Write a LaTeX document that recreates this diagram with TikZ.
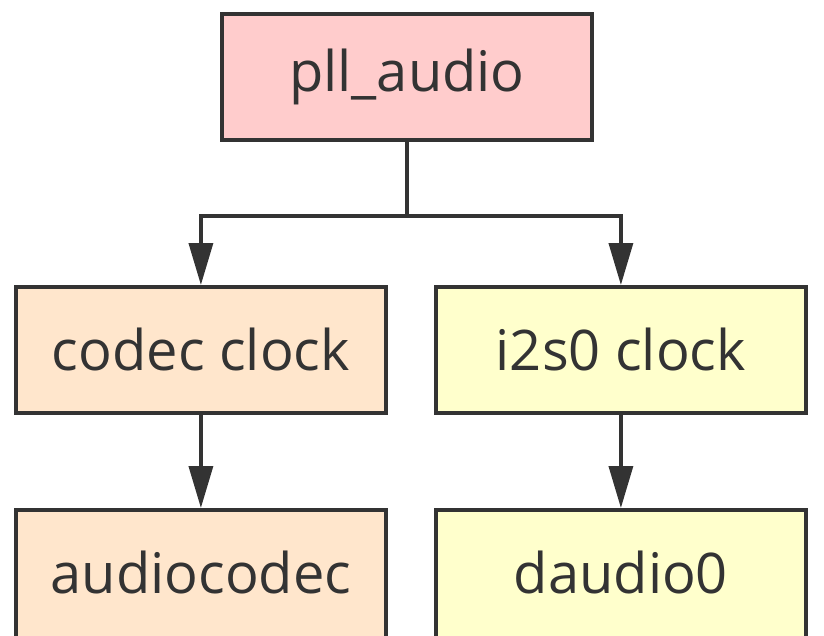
\documentclass[tikz,border=0pt]{standalone}
\usepackage{fontspec}
\setmainfont{Open Sans}
\usetikzlibrary{arrows.meta}
\definecolor{edge}{HTML}{333333}
\definecolor{pinkf}{HTML}{FFCCCC}
\definecolor{peachf}{HTML}{FFE6CC}
\definecolor{yellowf}{HTML}{FFFFCC}
\newcommand{\upby}[2]{\raisebox{#1}[\height][\depth]{#2}}
\begin{document}
\begin{tikzpicture}[x=1pt,y=-1pt,
  box/.style={draw=edge,line width=3.8pt,minimum width=370pt,minimum height=126pt,inner sep=0pt,
    font=\fontsize{56}{60}\selectfont,text=edge,anchor=north west},
  tallbox/.style={box,minimum height=160pt},
  conn/.style={draw=edge,line width=3.5pt,-{Triangle[length=42pt,width=24pt]}},
  plain/.style={draw=edge,line width=3.5pt}]
\useasboundingbox (0,0) rectangle (824,635);
\clip (0,0) rectangle (824,635);
\node[box,fill=pinkf] (pll) at (220,12) {pll\_audio};
\node[box,fill=peachf] (codec) at (14,285) {codec clock};
\node[box,fill=yellowf] (i2s) at (434,285) {i2s0 clock};
\node[tallbox,fill=peachf] (acodec) at (14,508) {\upby{17pt}{audiocodec}};
\node[tallbox,fill=yellowf] (dau) at (434,508) {\upby{17pt}{daudio0}};
\coordinate (jn) at ([yshift=-74pt]pll.south);
\draw[plain] (pll.south) -- (jn);
\draw[conn] (jn) -| (codec.north);
\draw[conn] (jn) -| (i2s.north);
\draw[conn] (codec.south) -- (acodec.north);
\draw[conn] (i2s.south) -- (dau.north);
\end{tikzpicture}
\end{document}
